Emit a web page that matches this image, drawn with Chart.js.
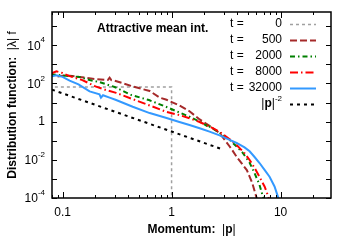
<!DOCTYPE html>
<html lang="en">
<head>
    <meta charset="UTF-8">
    <title>Attractive mean int.</title>
    <style>
        * {
            margin: 0;
            padding: 0;
            box-sizing: border-box;
        }

        body {
            background: #fff;
        }

        .chart-box {
            width: 349px;
            height: 244px;
        }
    </style>
</head>
<body>

    <div class="chart-box">
        <canvas id="distChart"></canvas>
    </div>

    <script src="https://cdn.jsdelivr.net/npm/chart.js"></script>
    <script>
        // momentum |p| and distribution |λ| f
        const pT0 = [0.085, 1, 1];
        const fT0 = [65, 65, 1e-6];

        const pT500 = [0.09, 0.1, 0.116, 0.143, 0.2, 0.26, 0.27, 0.28, 0.3, 0.44, 0.63, 0.78, 0.9, 1.18, 1.46, 1.81, 2.23, 2.76, 3.41, 3.6, 4.0, 4.9, 5.5, 6.0, 6.2];
        const fT500 = [230, 250, 250, 220, 170, 150, 200, 150, 140, 70, 40, 18, 14, 7, 3.5, 1.3, 0.6, 0.25, 0.05, 0.032, 0.013, 0.0029, 0.0006, 0.00011, 0.00006];

        const pT2000 = [0.078, 0.09, 0.1, 0.143, 0.177, 0.218, 0.3, 0.43, 0.62, 0.9, 1.18, 1.46, 1.81, 2.1, 2.2, 2.23, 2.76, 3.41, 3.95, 4.5, 5.2, 5.77, 6.4, 6.8, 7.1];
        const fT2000 = [300, 280, 260, 218, 150, 117, 65, 24.5, 13.5, 5.8, 3.0, 1.8, 1.0, 0.6, 0.75, 0.55, 0.26, 0.11, 0.05, 0.023, 0.007, 0.002, 0.0005, 0.00015, 0.00007];

        const pT8000 = [0.078, 0.088, 0.1, 0.116, 0.152, 0.2, 0.25, 0.31, 0.44, 0.63, 0.9, 1.18, 1.46, 1.81, 2.23, 2.76, 3.41, 3.95, 4.67, 5.2, 5.77, 6.41, 7.13, 7.6, 8.0];
        const fT8000 = [330, 430, 350, 240, 150, 70, 45, 32, 15, 7, 3.2, 2.2, 1.5, 0.95, 0.55, 0.29, 0.12, 0.06, 0.022, 0.0098, 0.0038, 0.00126, 0.0004, 0.00015, 0.00006];

        const pT32000 = [0.078, 0.088, 0.1, 0.116, 0.14, 0.177, 0.218, 0.225, 0.235, 0.27, 0.31, 0.44, 0.63, 0.9, 1.18, 1.46, 1.81, 2.23, 2.76, 3.41, 3.95, 4.67, 5.2, 5.77, 6.41, 7.13, 7.92, 8.8, 9.4, 9.9];
        const fT32000 = [230, 270, 220, 140, 90, 38, 27, 18, 24, 18, 13.5, 6, 2.8, 1.55, 0.95, 0.66, 0.45, 0.3, 0.19, 0.11, 0.076, 0.045, 0.028, 0.014, 0.0068, 0.003, 0.0013, 0.0004, 0.00013, 0.00005];

        const pPow = [0.08, 2.9];
        const fPow = [47, 0.036];

        const times = ['0', '500', '2000', '8000', '32000'];
        const xTickVals = [0.1, 1, 10];
        const xTickLabels = ['0.1', '1', '10'];
        const yTickVals = [1e4, 1e2, 1, 1e-2, 1e-4];
        const yTickExp = ['4', '2', '', '-2', '-4'];

        function pts(p, f) {
            return p.map((v, i) => ({ x: v, y: f[i] }));
        }

        const FONT = '"Liberation Sans", Arial, sans-serif';

        // draws frame, inward ticks, labels, legend and titles the gnuplot way
        const decor = {
            id: 'decor',
            afterDatasetsDraw(chart) {
                const ctx = chart.ctx;
                const a = chart.chartArea;
                const xs = chart.scales.x;
                const ys = chart.scales.y;
                ctx.save();

                // ticks
                ctx.strokeStyle = '#000';
                ctx.lineWidth = 1;
                ctx.beginPath();
                for (let e = -4; e <= 5; e++) {
                    const py = Math.round(ys.getPixelForValue(Math.pow(10, e))) + 0.5;
                    ctx.moveTo(a.left, py); ctx.lineTo(a.left + 5, py);
                    ctx.moveTo(a.right, py); ctx.lineTo(a.right - 5, py);
                }
                for (let e = -2; e <= 1; e++) {
                    for (let m = 1; m <= 9; m++) {
                        const v = m * Math.pow(10, e);
                        if (v < xs.min || v > xs.max) continue;
                        const px = Math.round(xs.getPixelForValue(v)) + 0.5;
                        const len = m === 1 ? 6 : 3;
                        ctx.moveTo(px, a.bottom); ctx.lineTo(px, a.bottom - len);
                        ctx.moveTo(px, a.top); ctx.lineTo(px, a.top + len);
                    }
                }
                ctx.stroke();

                // frame
                ctx.lineWidth = 1.5;
                ctx.strokeRect(a.left, a.top, a.right - a.left, a.bottom - a.top);

                ctx.fillStyle = '#000';
                ctx.textBaseline = 'middle';

                // x tick labels
                ctx.font = '12px ' + FONT;
                ctx.textAlign = 'center';
                xTickVals.forEach((v, i) => {
                    ctx.fillText(xTickLabels[i], xs.getPixelForValue(v), a.bottom + 15);
                });

                // y tick labels with superscripts
                ctx.textAlign = 'left';
                yTickVals.forEach((v, i) => {
                    const py = ys.getPixelForValue(v);
                    const right = a.left - 7;
                    if (yTickExp[i] === '') {
                        ctx.font = '12px ' + FONT;
                        ctx.fillText('1', right - ctx.measureText('1').width, py);
                        return;
                    }
                    ctx.font = '8px ' + FONT;
                    const we = ctx.measureText(yTickExp[i]).width;
                    ctx.font = '12px ' + FONT;
                    const wb = ctx.measureText('10').width;
                    ctx.fillText('10', right - we - wb, py + 1);
                    ctx.font = '8px ' + FONT;
                    ctx.fillText(yTickExp[i], right - we, py - 5);
                });

                // inner title
                ctx.font = 'bold 12px ' + FONT;
                ctx.fillText('Attractive mean int.', 97, 29);

                // legend
                const ds = chart.data.datasets;
                for (let i = 0; i < 6; i++) {
                    const ly = 24 + 16 * i;
                    if (i < 5) {
                        ctx.font = '12px ' + FONT;
                        ctx.textAlign = 'left';
                        ctx.fillText('t =', 230, ly);
                        ctx.textAlign = 'right';
                        ctx.fillText(times[i], 282, ly);
                    } else {
                        ctx.textAlign = 'left';
                        ctx.font = '8px ' + FONT;
                        const wsup = ctx.measureText('-2').width;
                        ctx.font = '12px ' + FONT;
                        const wbar = ctx.measureText('|').width;
                        ctx.font = 'bold 12px ' + FONT;
                        const wp = ctx.measureText('p').width;
                        let x0 = 282 - wsup - 2 * wbar - wp;
                        ctx.font = '12px ' + FONT;
                        ctx.fillText('|', x0, ly); x0 += wbar;
                        ctx.font = 'bold 12px ' + FONT;
                        ctx.fillText('p', x0, ly); x0 += wp;
                        ctx.font = '12px ' + FONT;
                        ctx.fillText('|', x0, ly); x0 += wbar;
                        ctx.font = '8px ' + FONT;
                        ctx.fillText('-2', x0, ly - 5);
                    }
                    const d = ds[i];
                    ctx.beginPath();
                    ctx.setLineDash(d.borderDash || []);
                    ctx.strokeStyle = d.borderColor;
                    ctx.lineWidth = d.borderWidth;
                    ctx.moveTo(290, ly + 0.5);
                    ctx.lineTo(316, ly + 0.5);
                    ctx.stroke();
                }
                ctx.setLineDash([]);

                // x title
                ctx.fillStyle = '#000';
                ctx.textAlign = 'left';
                ctx.font = 'bold 12px ' + FONT;
                const t1 = 'Momentum:  ';
                const w1 = ctx.measureText(t1).width;
                ctx.font = '12px ' + FONT;
                const wb2 = ctx.measureText('|').width;
                ctx.font = 'bold 12px ' + FONT;
                const wp2 = ctx.measureText('p').width;
                let xx = (a.left + a.right) / 2 - (w1 + 2 * wb2 + wp2) / 2;
                ctx.fillText(t1, xx, 230); xx += w1;
                ctx.font = '12px ' + FONT;
                ctx.fillText('|', xx, 230); xx += wb2;
                ctx.font = 'bold 12px ' + FONT;
                ctx.fillText('p', xx, 230); xx += wp2;
                ctx.font = '12px ' + FONT;
                ctx.fillText('|', xx, 230);

                // y title
                ctx.translate(13, (a.top + a.bottom) / 2);
                ctx.rotate(-Math.PI / 2);
                ctx.font = 'bold 12px ' + FONT;
                const y1 = 'Distribution function:  ';
                const wy1 = ctx.measureText(y1).width;
                ctx.font = '12px ' + FONT;
                const y2 = '|λ| f';
                const wy2 = ctx.measureText(y2).width;
                let yy = -(wy1 + wy2) / 2;
                ctx.font = 'bold 12px ' + FONT;
                ctx.fillText(y1, yy, 0);
                ctx.font = '12px ' + FONT;
                ctx.fillText(y2, yy + wy1, 0);

                ctx.restore();
            }
        };

        const ctx = document.getElementById('distChart').getContext('2d');
        new Chart(ctx, {
            type: 'line',
            data: {
                datasets: [
                    { label: 't = 0', data: pts(pT0, fT0), borderColor: '#a0a0a0', borderWidth: 1.5, borderDash: [3, 3], order: 5 },
                    { label: 't = 500', data: pts(pT500, fT500), borderColor: '#a52a2a', borderWidth: 2, borderDash: [7, 3], order: 4 },
                    { label: 't = 2000', data: pts(pT2000, fT2000), borderColor: '#008000', borderWidth: 2, borderDash: [5, 3, 1.5, 3], order: 3 },
                    { label: 't = 8000', data: pts(pT8000, fT8000), borderColor: '#ff0000', borderWidth: 2, borderDash: [8, 3, 1.5, 3], order: 2 },
                    { label: 't = 32000', data: pts(pT32000, fT32000), borderColor: '#3399ff', borderWidth: 2, order: 1 },
                    { label: '|p|^-2', data: pts(pPow, fPow), borderColor: '#000000', borderWidth: 2, borderDash: [3, 4], order: 0 }
                ]
            },
            options: {
                responsive: true,
                maintainAspectRatio: false,
                animation: false,
                layout: { padding: { left: 52, right: 18, top: 12, bottom: 46 } },
                elements: {
                    point: { radius: 0, hoverRadius: 0 },
                    line: { tension: 0, fill: false }
                },
                plugins: {
                    legend: { display: false },
                    tooltip: { enabled: false }
                },
                scales: {
                    x: {
                        type: 'logarithmic',
                        min: 0.08,
                        max: 29,
                        grid: { display: false, drawTicks: false },
                        border: { display: false },
                        ticks: { display: false }
                    },
                    y: {
                        type: 'logarithmic',
                        min: 1e-4,
                        max: 5.5e5,
                        grid: { display: false, drawTicks: false },
                        border: { display: false },
                        ticks: { display: false }
                    }
                }
            },
            plugins: [decor]
        });
    </script>

</body>
</html>
